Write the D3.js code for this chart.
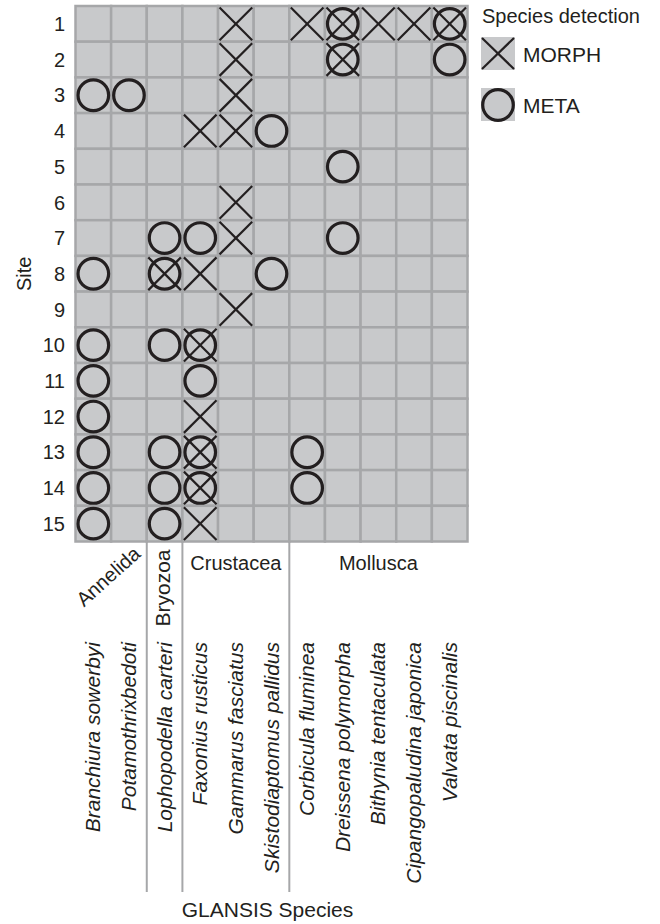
<!DOCTYPE html>
<html>
<head>
<meta charset="utf-8">
<script src="https://cdn.jsdelivr.net/npm/d3@7"></script>
<style>
  body { margin: 0; background: #fff; }
  text { font-family: "Liberation Sans", Arial, sans-serif; fill: #231f20; }
</style>
</head>
<body>
<div id="chart"></div>
<script>
(function() {
	var width = 660,
		height = 924;

	// species on the x axis, in order
	var species = ["Branchiura sowerbyi", "Potamothrixbedoti", "Lophopodella carteri",
		"Faxonius rusticus", "Gammarus fasciatus", "Skistodiaptomus pallidus",
		"Corbicula fluminea", "Dreissena polymorpha", "Bithynia tentaculata",
		"Cipangopaludina japonica", "Valvata piscinalis"];

	var sites = d3.range(1, 16);

	// taxonomic groups: first and last species of each
	var groups = [
		{ name: "Annelida", from: 0, to: 1 },
		{ name: "Bryozoa", from: 2, to: 2 },
		{ name: "Crustacea", from: 3, to: 5 },
		{ name: "Mollusca", from: 6, to: 10 }
	];

	// detections [site, species index]
	var morph = [
		[1, 4], [1, 6], [1, 7], [1, 8], [1, 9], [1, 10],
		[2, 4], [2, 7],
		[3, 4],
		[4, 3], [4, 4],
		[6, 4],
		[7, 4],
		[8, 2], [8, 3],
		[9, 4],
		[10, 3],
		[12, 3],
		[13, 3],
		[14, 3],
		[15, 3]
	];

	var meta = [
		[1, 7], [1, 10],
		[2, 7], [2, 10],
		[3, 0], [3, 1],
		[4, 5],
		[5, 7],
		[7, 2], [7, 3], [7, 7],
		[8, 0], [8, 2], [8, 5],
		[10, 0], [10, 2], [10, 3],
		[11, 0], [11, 3],
		[12, 0],
		[13, 0], [13, 2], [13, 3], [13, 6],
		[14, 0], [14, 2], [14, 3], [14, 6],
		[15, 0], [15, 2]
	];

	var ink = "#231f20",
		cellFill = "#c8c9cb",
		gridLine = "#a6a7a9";

	var svg = d3.select("#chart")
		.append("svg")
		.attr("width", width)
		.attr("height", height);

	var x = d3.scaleBand().domain(d3.range(species.length)).range([75.5, 467.5]);
	var y = d3.scaleBand().domain(sites).range([6, 541.5]);

	// cells
	var cells = [];
	sites.forEach(function(s) {
		species.forEach(function(sp, i) { cells.push([s, i]); });
	});

	svg.append("g").selectAll("rect")
		.data(cells)
		.enter().append("rect")
		.attr("x", function(d) { return x(d[1]); })
		.attr("y", function(d) { return y(d[0]); })
		.attr("width", x.bandwidth())
		.attr("height", y.bandwidth())
		.attr("fill", cellFill)
		.attr("stroke", gridLine)
		.attr("stroke-width", 2.5);

	// MORPH crosses
	var xi = 1.5;
	var crosses = svg.append("g").selectAll("g")
		.data(morph)
		.enter().append("g")
		.attr("transform", function(d) { return "translate(" + x(d[1]) + "," + y(d[0]) + ")"; });
	crosses.append("line")
		.attr("x1", xi).attr("y1", xi)
		.attr("x2", x.bandwidth() - xi).attr("y2", y.bandwidth() - xi);
	crosses.append("line")
		.attr("x1", x.bandwidth() - xi).attr("y1", xi)
		.attr("x2", xi).attr("y2", y.bandwidth() - xi);
	crosses.selectAll("line")
		.attr("stroke", ink)
		.attr("stroke-width", 2.2);

	// META circles
	svg.append("g").selectAll("circle")
		.data(meta)
		.enter().append("circle")
		.attr("cx", function(d) { return x(d[1]) + x.bandwidth() / 2; })
		.attr("cy", function(d) { return y(d[0]) + y.bandwidth() / 2; })
		.attr("r", 15.3)
		.attr("fill", "none")
		.attr("stroke", ink)
		.attr("stroke-width", 3.2);

	// site labels
	svg.append("g").selectAll("text")
		.data(sites)
		.enter().append("text")
		.attr("x", 65)
		.attr("y", function(d) { return y(d) + y.bandwidth() / 2; })
		.attr("dy", "0.36em")
		.attr("text-anchor", "end")
		.style("font-size", "20px")
		.text(function(d) { return d; });

	svg.append("text")
		.attr("transform", "translate(31," + (y.range()[0] + y.range()[1]) / 2 + ") rotate(-90)")
		.attr("text-anchor", "middle")
		.style("font-size", "20px")
		.text("Site");

	// species labels
	svg.append("g").selectAll("text")
		.data(species)
		.enter().append("text")
		.attr("transform", function(d, i) {
			return "translate(" + (x(i) + x.bandwidth() / 2 + 7) + ",642) rotate(-90)";
		})
		.attr("text-anchor", "end")
		.style("font-size", "21px")
		.style("font-style", "italic")
		.text(function(d) { return d; });

	// group divider lines
	var bottom = y.range()[1];
	svg.append("g").selectAll("line")
		.data(groups.slice(1))
		.enter().append("line")
		.attr("x1", function(d) { return x(d.from); })
		.attr("x2", function(d) { return x(d.from); })
		.attr("y1", bottom)
		.attr("y2", 892)
		.attr("stroke", gridLine)
		.attr("stroke-width", 2);

	// group labels
	var gx = function(g) { return (x(g.from) + x(g.to) + x.bandwidth()) / 2; };
	svg.append("text")
		.attr("transform", "translate(" + (x(1) + x.bandwidth() - 5) + "," + (bottom + 14) + ") rotate(-42)")
		.attr("text-anchor", "end")
		.style("font-size", "20px")
		.text(groups[0].name);
	svg.append("text")
		.attr("transform", "translate(" + (gx(groups[1]) + 5) + "," + (bottom + 8) + ") rotate(-90)")
		.attr("text-anchor", "end")
		.style("font-size", "21px")
		.text(groups[1].name);
	svg.append("g").selectAll("text")
		.data(groups.slice(2))
		.enter().append("text")
		.attr("x", gx)
		.attr("y", 570)
		.attr("text-anchor", "middle")
		.style("font-size", "20px")
		.text(function(d) { return d.name; });

	svg.append("text")
		.attr("x", (x.range()[0] + x.range()[1]) / 2 - 4)
		.attr("y", 917)
		.attr("text-anchor", "middle")
		.style("font-size", "21px")
		.text("GLANSIS Species");

	// legend
	var legend = svg.append("g").attr("transform", "translate(481,0)");
	legend.append("text")
		.attr("x", 1).attr("y", 23)
		.style("font-size", "20px")
		.text("Species detection");
	var items = [{ name: "MORPH", y: 37 }, { name: "META", y: 88 }];
	var li = legend.selectAll(".item")
		.data(items)
		.enter().append("g")
		.attr("class", "item")
		.attr("transform", function(d) { return "translate(0," + d.y + ")"; });
	li.append("rect")
		.attr("width", 34).attr("height", 33)
		.attr("fill", cellFill);
	li.filter(function(d) { return d.name === "MORPH"; })
		.selectAll("line")
		.data([[1, 1, 33, 32], [33, 1, 1, 32]])
		.enter().append("line")
		.attr("x1", function(d) { return d[0]; }).attr("y1", function(d) { return d[1]; })
		.attr("x2", function(d) { return d[2]; }).attr("y2", function(d) { return d[3]; })
		.attr("stroke", ink).attr("stroke-width", 2.2);
	li.filter(function(d) { return d.name === "META"; })
		.append("circle")
		.attr("cx", 17).attr("cy", 17).attr("r", 15.3)
		.attr("fill", "none").attr("stroke", ink).attr("stroke-width", 3.2);
	li.append("text")
		.attr("x", 42).attr("y", 25)
		.style("font-size", "21px")
		.text(function(d) { return d.name; });
})();
</script>
</body>
</html>
